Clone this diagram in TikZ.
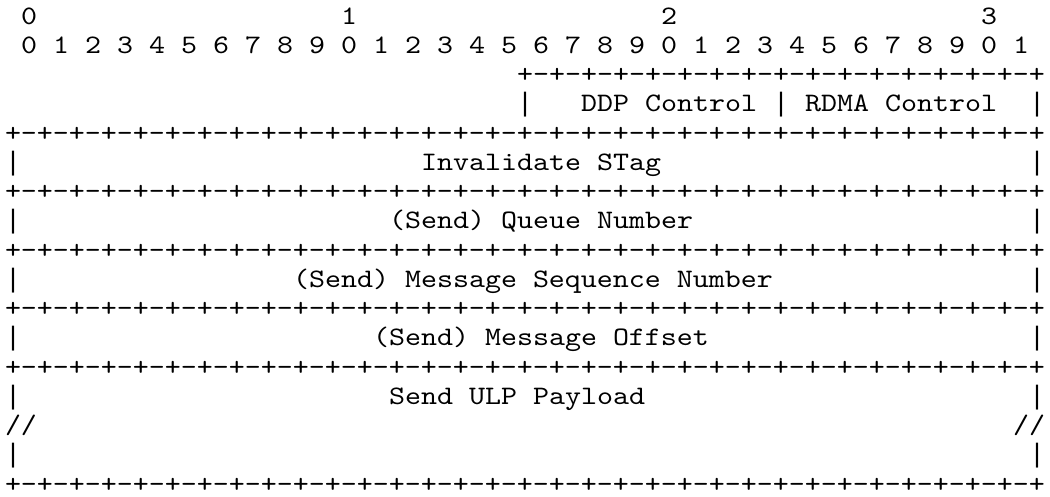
\documentclass[tikz,border=0pt]{standalone}
\usepackage{fontspec}
\newfontfamily\asciifont{lmmono10-regular.otf}[FakeStretch=1.142857]
\newfontfamily\barfont{Liberation Mono}
\newcommand\fullrule{+-+-+-+-+-+-+-+-+-+-+-+-+-+-+-+-+-+-+-+-+-+-+-+-+-+-+-+-+-+-+-+-+}
\newcommand\halfrule{+-+-+-+-+-+-+-+-+-+-+-+-+-+-+-+-+}
\tikzset{asc/.style={font=\asciifont\fontsize{10}{10}\selectfont,anchor=base west,inner sep=0pt,outer sep=0pt},
vbar/.style={asc,font=\barfont\fontsize{10}{10}\selectfont}}

\begin{document}
\begin{tikzpicture}[x=6pt,y=-10.97pt]
\useasboundingbox (-1.875pt,9pt) rectangle (391.875pt,-177pt);
\foreach \t in {0,...,3} \node[asc] (ten\t) at (20*\t+1,0) {\t};
\foreach \b in {0,...,31}{\pgfmathtruncatemacro\d{mod(\b,10)}
\node[asc] (bit\b) at (2*\b+1,1) {\d};}
\node[asc] (ctltop) at (32,2) {\halfrule};
\foreach \r in {4,6,8,10,12,16} \node[asc] (rule\r) at (0,\r) {\fullrule};
\foreach \c in {32,48,64} \node[vbar] (ctlbar\c) at (\c,3) {|};
\foreach \r in {5,7,9,11,13,15}{\node[vbar] (lbar\r) at (0,\r) {|};
\node[vbar] (rbar\r) at (64,\r) {|};}
\node[asc] (lcut) at (0,14) {//};
\node[asc] (rcut) at (63,14) {//};
\node[asc] (ddp) at (36,3) {DDP Control};
\node[asc] (rdma) at (50,3) {RDMA Control};
\node[asc] (stag) at (26,5) {Invalidate STag};
\node[asc] (qn) at (24,7) {(Send) Queue Number};
\node[asc] (msn) at (18,9) {(Send) Message Sequence Number};
\node[asc] (mo) at (23,11) {(Send) Message Offset};
\node[asc] (ulp) at (24,13) {Send ULP Payload};
\end{tikzpicture}
\end{document}
